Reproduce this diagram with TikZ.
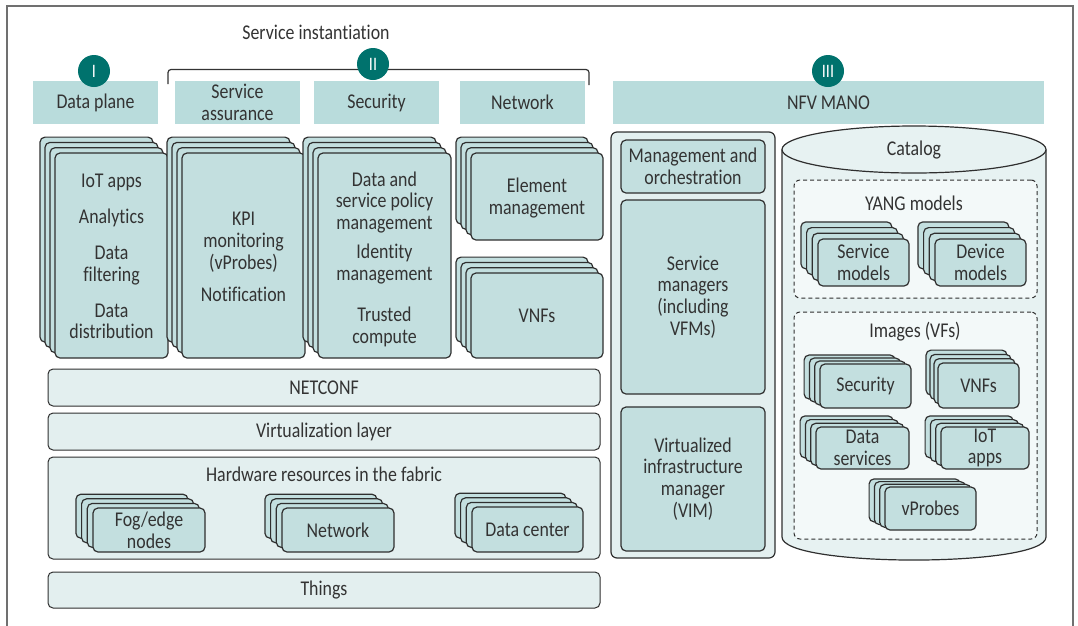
\documentclass[tikz,border=0pt]{standalone}
\usepackage{fontspec}
\setmainfont{Carlito}[FakeStretch=0.85, RawFeature={-liga;-calt;-clig}]

\definecolor{ink}{HTML}{333333}
\definecolor{edge}{HTML}{2F2F2F}
\definecolor{framec}{HTML}{707070}
\definecolor{hdr}{HTML}{B9DCDC}
\definecolor{tealbox}{HTML}{C3DFDF}
\definecolor{pale}{HTML}{E3EFEF}
\definecolor{catfill}{HTML}{E7F2F2}
\definecolor{paler}{HTML}{F3F9F9}
\definecolor{badgec}{HTML}{00726D}

% a node that fills the rectangle (#2,#3)-(#4,#5)
\newcommand{\areanode}[7]{%
  \node[#1, minimum width={#4-#2}, minimum height={#5-#3}] (#6)
    at ({(#2+#4)/2},{(#3+#5)/2}) {#7};}

% a stack of four equal boxes: offset (#1,#2) per layer, front box (#3,#4)-(#5,#6),
% label #8 set #9 below the centre of the front box
\newcommand{\layerstack}[9]{%
  \foreach \k in {3,2,1}{%
    \draw[layer] ({#3-\k*#1},{#4-\k*#2}) rectangle ({#5-\k*#1},{#6-\k*#2});}
  \areanode{layer}{#3}{#4}{#5}{#6}{#7}{}
  \node (#7-text) at ({(#3+#5)/2},{(#4+#6)/2+#9}) {#8};}

\begin{document}
\begin{tikzpicture}[x=1pt,y=-1pt,
  every node/.style={text=ink, font=\fontsize{21}{21.8}\selectfont, align=center, inner sep=0pt},
  header/.style={fill=hdr},
  layer/.style={draw=edge, fill=tealbox, line width=1.2pt, rounded corners=5pt},
  band/.style={draw=edge, fill=pale, line width=1pt, rounded corners=5pt},
  dashedbox/.style={draw=edge, fill=paler, line width=1pt, dash pattern=on 4pt off 3pt, rounded corners=6pt},
  badge/.style={circle, fill=badgec, text=white, minimum size=32pt, font=\fontsize{19}{19}\selectfont},
]
\useasboundingbox (0,0) rectangle (1078,625);

% outer frame, open at the bottom
\draw[draw=framec, line width=1.5pt] (7,630) -- (7,6) -- (1073,6) -- (1073,630);

% column headers
\areanode{header}{33}{81}{158}{124}{hdp}{Data plane}
\areanode{header}{175}{81}{300}{124}{hsa}{Service\\assurance}
\areanode{header}{314}{81}{439}{124}{hsec}{Security}
\areanode{header}{460}{81}{585}{124}{hnet}{Network}
\areanode{header}{613}{81}{1044}{124}{hmano}{NFV MANO}

% service instantiation brace
\node (si) at (316,32) {Service instantiation};
\coordinate (brl) at (168,84);
\coordinate (brr) at (589,85);
\draw[draw=ink, line width=1.2pt, rounded corners=3pt] (brl) -- (168,69.5) -- (589,69.5) -- (brr);

% numbered badges
\node[badge] (b1) at (94,71) {I};
\node[badge] (b2) at (373,64) {II};
\node[badge] (b3) at (828,71) {III};

% data plane and service instantiation stacks
\layerstack{5}{5.3}{55}{153}{168}{358}{sdp}{IoT apps\\[14.2pt]Analytics\\[14.2pt]Data\\filtering\\[14.2pt]Data\\distribution}{1}
\layerstack{5}{5.3}{182}{153}{305}{358}{ssa}{KPI\\monitoring\\(vProbes)\\[10.5pt]Notification}{1.5}
\layerstack{5}{5.3}{318}{153}{451}{358}{ssec}{Data and\\service policy\\management\\[7.2pt]Identity\\management\\[19.2pt]Trusted\\compute}{3.5}
\layerstack{5}{5.3}{471}{153}{603}{240}{sem}{Element\\management}{1.5}
\layerstack{5}{5.3}{471}{273}{603}{358}{svnf}{VNFs}{0}

% infrastructure layers
\areanode{band}{48}{369}{600}{406}{netconf}{NETCONF}
\areanode{band}{48}{413}{600}{450}{virt}{Virtualization layer}
\areanode{band}{48}{457}{600}{559}{hw}{}
\node (hwtitle) at (324,474) {Hardware resources in the fabric};
\layerstack{5.7}{4.6}{93}{508}{205}{552}{sfog}{Fog/edge\\nodes}{0}
\layerstack{5.7}{4.6}{282}{508}{394}{552}{shwnet}{Network}{0}
\layerstack{5.7}{4.6}{472}{507}{583}{552}{sdc}{Data center}{0}
\areanode{band}{48}{572}{600}{608}{things}{Things}

% NFV MANO column
\areanode{band, line width=1.2pt, rounded corners=6pt}{611}{132}{775}{558}{mano}{}
\areanode{layer}{621}{140}{765}{193}{mo}{Management and\\orchestration}
\areanode{layer}{621}{200}{765}{394}{sm}{Service\\managers\\(including\\VFMs)}
\areanode{layer}{621}{407}{765}{551}{vim}{Virtualized\\infrastructure\\manager\\(VIM)}

% catalog cylinder
\filldraw[draw=edge, fill=catfill, line width=1.2pt]
  (782,149.5) -- (782,537) .. controls (782,567.7) and (1046,567.7) .. (1046,537) -- (1046,149.5);
\filldraw[draw=edge, fill=catfill, line width=1.2pt] (914,149.5) ellipse [x radius=132, y radius=23.5];
\node (catalog) at (914,150) {Catalog};

% YANG models
\areanode{dashedbox}{794}{180}{1037}{298}{yang}{}
\node (yangtitle) at (914,203) {YANG models};
\layerstack{5.7}{5.7}{818}{239}{909}{286}{ssm}{Service\\models}{0}
\layerstack{5.7}{5.7}{935}{239}{1026}{286}{sdm}{Device\\models}{0}

% images
\areanode{dashedbox}{794}{312}{1037}{539}{images}{}
\node (imgtitle) at (915,332) {Images (VFs)};
\layerstack{5.3}{3}{820}{364}{911}{408}{isec}{Security}{0}
\layerstack{4}{4.3}{938}{363}{1019}{408}{ivnf}{VNFs}{0}
\layerstack{5.3}{3.7}{816}{427}{909}{469}{ids}{Data\\services}{0}
\layerstack{5.3}{3.7}{941}{427}{1029}{469}{iiot}{IoT\\apps}{0}
\layerstack{5.3}{2.7}{885}{487}{976}{530}{ivp}{vProbes}{0}
\end{tikzpicture}
\end{document}
